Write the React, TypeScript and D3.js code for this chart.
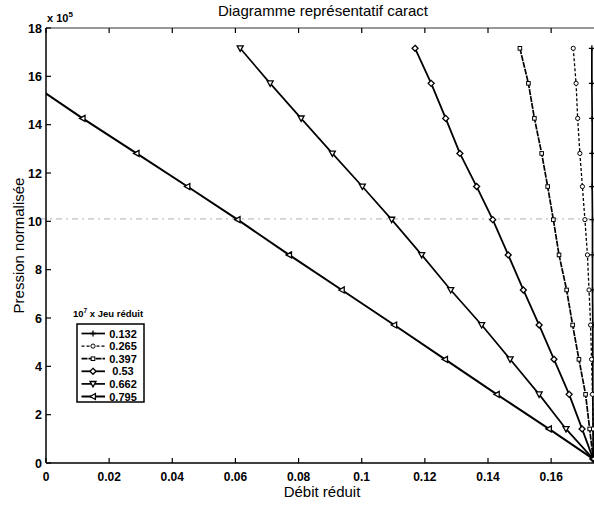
import React from "react";
import * as d3 from "d3";

const xTicks = [0, 0.02, 0.04, 0.06, 0.08, 0.1, 0.12, 0.14, 0.16];
const yTicks = [0, 2, 4, 6, 8, 10, 12, 14, 16, 18];
const jeuLabels = ["0.132", "0.265", "0.397", "0.53", "0.662", "0.795"];

// Normalised pressure (x 10^5) at each computed point, shared by every curve
const pressure = [17.16, 15.71, 14.26, 12.81, 11.44, 10.07, 8.61, 7.16, 5.71, 4.29, 2.84, 1.41, 0.17];

// Reduced flow read for each curve at the pressure levels above
const debit132 = [0.1729, 0.1729, 0.173, 0.173, 0.173, 0.1731, 0.1731, 0.1731, 0.1732, 0.1732, 0.1732, 0.1733, 0.1733];
const debit265 = [0.167, 0.1679, 0.1684, 0.1691, 0.1699, 0.1707, 0.1715, 0.172, 0.1725, 0.1728, 0.1731, 0.1733, 0.1733];
const debit397 = [0.1501, 0.1528, 0.1547, 0.157, 0.1589, 0.1607, 0.1625, 0.1649, 0.1668, 0.1688, 0.1709, 0.1722, 0.1733];
const debit53 = [0.1169, 0.122, 0.1266, 0.1311, 0.1364, 0.1415, 0.1464, 0.1512, 0.1562, 0.1609, 0.1657, 0.1698, 0.1733];
const debit662 = [0.0615, 0.071, 0.0808, 0.0907, 0.1002, 0.1095, 0.119, 0.1282, 0.138, 0.147, 0.1562, 0.1647, 0.1733];
const debit795 = [-0.021, -0.0047, 0.0116, 0.0287, 0.0448, 0.0607, 0.077, 0.0937, 0.1103, 0.1264, 0.1428, 0.1593, 0.1733];

const debits = [debit132, debit265, debit397, debit53, debit662, debit795];

type Style = { dash?: string; marker: string; width: number };
const styles: Style[] = [
  { marker: "plus", width: 1.7 },
  { dash: "3,2", marker: "circle", width: 1.3 },
  { dash: "6,1", marker: "square", width: 1.7 },
  { marker: "diamond", width: 1.8 },
  { marker: "tridown", width: 1.7 },
  { marker: "trileft", width: 2 },
];

const W = 594;
const H = 506;
const L = 46;
const R = 598.5;
const T = 28;
const B = 463;

const x = d3.scaleLinear().domain([0, 0.175]).range([L, R]);
const y = d3.scaleLinear().domain([0, 18]).range([B, T]);

function Marker({ kind, cx, cy }: { kind: string; cx: number; cy: number }) {
  const s = 3;
  const common = { fill: "white", stroke: "black", strokeWidth: 1.3 };
  if (kind === "plus")
    return (
      <path d={`M${cx - s},${cy}H${cx + s}M${cx},${cy - s}V${cy + s}`} stroke="black" strokeWidth={1.3} fill="none" />
    );
  if (kind === "circle") return <circle cx={cx} cy={cy} r={2.1} {...common} strokeWidth={1} />;
  if (kind === "square") return <rect x={cx - 1.8} y={cy - 1.8} width={3.6} height={3.6} {...common} strokeWidth={1} />;
  if (kind === "diamond")
    return <path d={`M${cx},${cy - s}L${cx + s},${cy}L${cx},${cy + s}L${cx - s},${cy}Z`} {...common} />;
  if (kind === "tridown")
    return <path d={`M${cx - s},${cy - s * 0.8}L${cx + s},${cy - s * 0.8}L${cx},${cy + s}Z`} {...common} />;
  return <path d={`M${cx - s},${cy}L${cx + s * 0.8},${cy - s}L${cx + s * 0.8},${cy + s}Z`} {...common} />;
}

export default function App() {
  const font = "'Liberation Sans', Arial, Helvetica, sans-serif";
  const line = d3
    .line<number>()
    .x((d) => x(d))
    .y((_, i) => y(pressure[i]));

  const legX = 77;
  const legY = 324;
  const rowH = 12.6;

  return (
    <svg
      width={W}
      height={H}
      style={{ position: "absolute", left: 0, top: 0, background: "white" }}
      fontFamily={font}
    >
      <defs>
        <clipPath id="plotClip">
          <rect x={L} y={T - 6} width={R - L + 10} height={B - T + 6} />
        </clipPath>
      </defs>
      <rect x={0} y={0} width={W} height={H} fill="white" />

      {/* scan artefact dashed line */}
      <line x1={40} x2={W} y1={y(10.1)} y2={y(10.1)} stroke="#9a9a9a" strokeWidth={0.8} strokeDasharray="6,4,2,4" />

      {/* curves */}
      <g clipPath="url(#plotClip)">
        {debits.map((deb, si) => (
          <g key={si}>
            <path
              d={line(deb) || ""}
              fill="none"
              stroke="black"
              strokeWidth={styles[si].width}
              strokeDasharray={styles[si].dash}
            />
            {deb.map((d, i) =>
              x(d) >= L ? <Marker key={i} kind={styles[si].marker} cx={x(d)} cy={y(pressure[i])} /> : null
            )}
          </g>
        ))}
      </g>

      {/* axes */}
      <line x1={L} x2={L} y1={T} y2={B} stroke="black" strokeWidth={1.5} />
      <line x1={L} x2={W} y1={B} y2={B} stroke="black" strokeWidth={1.5} />
      <line x1={L} x2={W} y1={T} y2={T} stroke="#333" strokeWidth={1.2} />
      {xTicks.map((t) => (
        <g key={t}>
          <line x1={x(t)} x2={x(t)} y1={B} y2={B - 5} stroke="black" strokeWidth={1.2} />
          <line x1={x(t)} x2={x(t)} y1={T} y2={T + 5} stroke="black" strokeWidth={1.2} />
          <text x={x(t)} y={481} textAnchor="middle" fontSize={12} fontWeight="bold">
            {t === 0 ? "0" : d3.format("")(t)}
          </text>
        </g>
      ))}
      {yTicks.map((t) => (
        <g key={t}>
          <line x1={L} x2={L + 5} y1={y(t)} y2={y(t)} stroke="black" strokeWidth={1.2} />
          <text x={42} y={y(t) + 4.5} textAnchor="end" fontSize={12.5} fontWeight="bold">
            {t}
          </text>
        </g>
      ))}

      {/* exponent */}
      <text x={47} y={22} fontSize={11} fontWeight="bold">
        x 10
        <tspan fontSize={8} dy={-5}>
          5
        </tspan>
      </text>

      {/* title and labels */}
      <text x={323} y={16} textAnchor="middle" fontSize={15}>
        Diagramme représentatif caract
      </text>
      <text x={322} y={497} textAnchor="middle" fontSize={15}>
        Débit réduit
      </text>
      <text transform={`translate(24,${(T + B) / 2}) rotate(-90)`} textAnchor="middle" fontSize={15}>
        Pression normalisée
      </text>

      {/* legend */}
      <text x={73} y={317} fontSize={9.5} fontWeight="bold">
        10
        <tspan fontSize={6.5} dy={-4}>
          7
        </tspan>
        <tspan dy={4}> x Jeu réduit</tspan>
      </text>
      <rect x={legX} y={legY} width={67} height={78} fill="white" stroke="black" strokeWidth={1.5} />
      {jeuLabels.map((lab, i) => {
        const cy = legY + 9.5 + i * rowH;
        return (
          <g key={lab}>
            <line
              x1={legX + 4.5}
              x2={legX + 28}
              y1={cy}
              y2={cy}
              stroke="black"
              strokeWidth={styles[i].width}
              strokeDasharray={styles[i].dash}
            />
            <Marker kind={styles[i].marker} cx={legX + 16} cy={cy} />
            <text x={legX + 46} y={cy + 4} textAnchor="middle" fontSize={11} fontWeight="bold">
              {lab}
            </text>
          </g>
        );
      })}
    </svg>
  );
}
